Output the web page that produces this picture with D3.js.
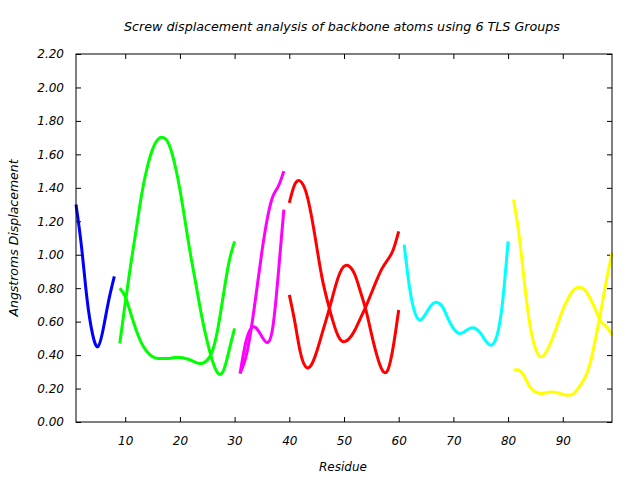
<!DOCTYPE html>
<html>
<head>
<meta charset="utf-8">
<script src="https://cdn.jsdelivr.net/npm/d3@7"></script>
<style>
	body { margin: 0; background: #fff; }
	text { font-family: "DejaVu Sans", sans-serif; font-style: italic; fill: #000; }
	.axis path { display: none; }
	.axis line { stroke: #000; }
	.axis text { font-size: 12px; }
	.curve { fill: none; stroke-width: 3; }
</style>
</head>
<body>
<svg id="vis" width="640" height="480"></svg>
<script>
// tick labels
var xTicks = [10, 20, 30, 40, 50, 60, 70, 80, 90];
var yTicks = [0, 0.2, 0.4, 0.6, 0.8, 1.0, 1.2, 1.4, 1.6, 1.8, 2.0, 2.2];

// first residue of each TLS group
var groupStart = [1, 9, 31, 40, 61, 81];

// screw displacement per residue, two traces per group
var group1 = [1.30, 1.05, 0.74, 0.53, 0.45, 0.56, 0.73, 0.87];
var group2a = [0.47, 0.71, 0.94, 1.15, 1.36, 1.52, 1.63, 1.69, 1.70, 1.66, 1.55, 1.39, 1.19, 0.99, 0.81, 0.63, 0.48, 0.36, 0.29, 0.31, 0.43, 0.56];
var group2b = [0.80, 0.75, 0.65, 0.55, 0.47, 0.42, 0.39, 0.38, 0.38, 0.38, 0.385, 0.385, 0.38, 0.37, 0.355, 0.35, 0.37, 0.43, 0.57, 0.77, 0.96, 1.08];
var group3a = [0.29, 0.38, 0.55, 0.78, 1.02, 1.22, 1.35, 1.41, 1.50];
var group3b = [0.29, 0.47, 0.56, 0.56, 0.51, 0.475, 0.57, 0.89, 1.27];
var group4a = [1.31, 1.42, 1.44, 1.38, 1.24, 1.05, 0.86, 0.72, 0.60, 0.51, 0.48, 0.50, 0.55, 0.62, 0.69, 0.77, 0.85, 0.92, 0.97, 1.03, 1.14];
var group4b = [0.76, 0.60, 0.42, 0.33, 0.34, 0.42, 0.53, 0.64, 0.76, 0.87, 0.93, 0.93, 0.88, 0.78, 0.67, 0.53, 0.40, 0.31, 0.31, 0.45, 0.67];
var group5 = [1.06, 0.80, 0.65, 0.61, 0.65, 0.70, 0.715, 0.69, 0.62, 0.56, 0.53, 0.54, 0.56, 0.56, 0.53, 0.48, 0.46, 0.52, 0.72, 1.08];
var group6a = [1.33, 1.12, 0.83, 0.58, 0.44, 0.39, 0.42, 0.49, 0.58, 0.67, 0.74, 0.79, 0.805, 0.79, 0.74, 0.67, 0.60, 0.57, 0.52];
var group6b = [0.31, 0.31, 0.27, 0.21, 0.18, 0.17, 0.175, 0.18, 0.175, 0.165, 0.16, 0.17, 0.21, 0.26, 0.35, 0.50, 0.67, 0.85, 1.01];

var traces = [
	[0, group1], [1, group2a], [1, group2b], [2, group3a], [2, group3b],
	[3, group4a], [3, group4b], [4, group5], [5, group6a], [5, group6b]
];
var groupColors = ["#0000ff", "#00ff00", "#ff00ff", "#ff0000", "#00ffff", "#ffff00"];

var svg = d3.select("#vis");
var mLeft = 76, mRight = 612, mTop = 54, mBottom = 422;

var x = d3.scaleLinear().domain([1, 99]).range([mLeft, mRight]);
var y = d3.scaleLinear().domain([0, 2.2]).range([mBottom, mTop]);

// axes, ticks pointing inward
svg.append("g")
   .attr("class", "axis")
   .attr("transform", "translate(0," + mBottom + ")")
   .call(d3.axisBottom(x).tickValues(xTicks).tickSizeInner(-5).tickSizeOuter(0).tickPadding(14))
   .selectAll("text").attr("dy", "0.71em");
svg.append("g")
   .attr("class", "axis")
   .attr("transform", "translate(0," + mTop + ")")
   .call(d3.axisTop(x).tickValues(xTicks).tickSizeInner(-5).tickSizeOuter(0).tickFormat(""));
svg.append("g")
   .attr("class", "axis")
   .attr("transform", "translate(" + mLeft + ",0)")
   .call(d3.axisLeft(y).tickValues(yTicks).tickSizeInner(-5).tickSizeOuter(0).tickPadding(12).tickFormat(d3.format(".2f")));
svg.append("g")
   .attr("class", "axis")
   .attr("transform", "translate(" + mRight + ",0)")
   .call(d3.axisRight(y).tickValues(yTicks).tickSizeInner(-5).tickSizeOuter(0).tickFormat(""));

// curves
var line = d3.line()
	.x(d => x(d[0]))
	.y(d => y(d[1]))
	.curve(d3.curveNatural);

svg.selectAll("path.curve")
   .data(traces)
   .enter()
   .append("path")
   .attr("class", "curve")
   .attr("stroke", d => groupColors[d[0]])
   .attr("d", d => line(d[1].map((v, i) => [groupStart[d[0]] + i, v])));

// frame
svg.append("rect")
   .attr("x", mLeft)
   .attr("y", mTop)
   .attr("width", mRight - mLeft)
   .attr("height", mBottom - mTop)
   .attr("fill", "none")
   .attr("stroke", "#000");

// title and labels
svg.append("text")
   .attr("x", 342)
   .attr("y", 31)
   .attr("text-anchor", "middle")
   .attr("font-size", 12.7)
   .text("Screw displacement analysis of backbone atoms using 6 TLS Groups");
svg.append("text")
   .attr("x", 343)
   .attr("y", 471)
   .attr("text-anchor", "middle")
   .attr("font-size", 12)
   .text("Residue");
svg.append("text")
   .attr("transform", "translate(18,238) rotate(-90)")
   .attr("text-anchor", "middle")
   .attr("font-size", 12.5)
   .text("Angstroms Displacement");
</script>
</body>
</html>
